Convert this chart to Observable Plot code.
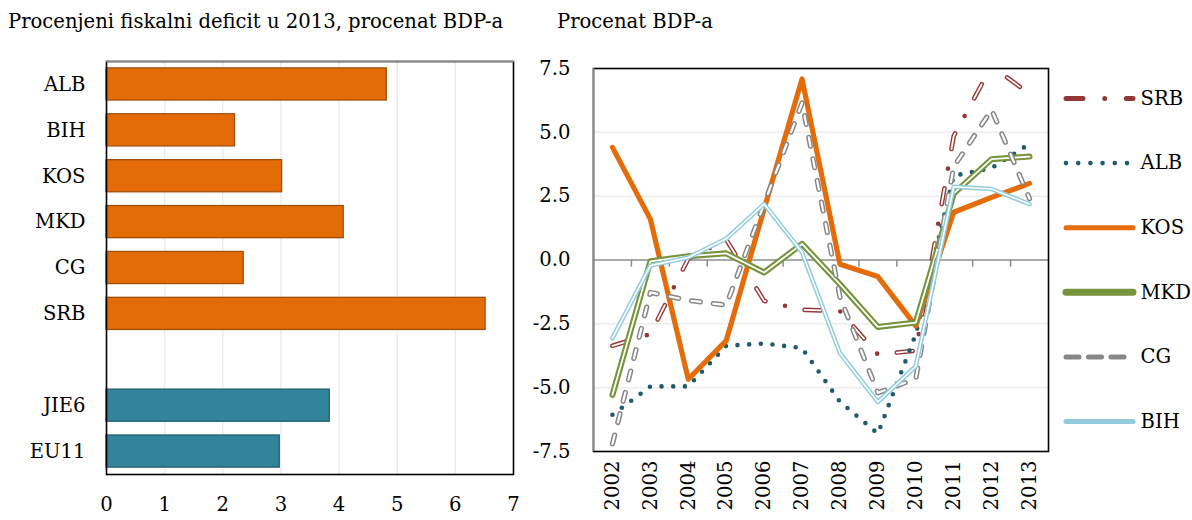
<!DOCTYPE html>
<html><head><meta charset="utf-8">
<script src="https://cdn.jsdelivr.net/npm/d3@7"></script>
<script src="https://cdn.jsdelivr.net/npm/@observablehq/plot@0.6"></script>
<style>
html,body{margin:0;padding:0;background:#fff;}
body{width:1192px;height:520px;overflow:hidden;position:relative;font-family:"DejaVu Serif",serif;color:#000;}
.t{position:absolute;font-size:19.6px;line-height:20px;white-space:nowrap;}
#t1{left:8px;top:12px;}
#t2{left:557px;top:12px;}
.p{position:absolute;top:0;}
#left{left:0;}
#right{left:540px;}
#legend{left:1055px;}
</style></head><body>
<div class="t" id="t1">Procenjeni fiskalni deficit u 2013, procenat BDP-a</div>
<div class="t" id="t2">Procenat BDP-a</div>
<div class="p" id="left"></div>
<div class="p" id="right"></div>
<div class="p" id="legend"></div>
<script>
// ---- Left chart data ----
const barCategories = ["ALB","BIH","KOS","MKD","CG","SRB","JIE6","EU11"];
const barValues     = [4.82, 2.21, 3.02, 4.08, 2.36, 6.52, 3.84, 2.98];
const barGroups     = ["country","country","country","country","country","country","region","region"];
const barTicks      = [0,1,2,3,4,5,6,7];

// ---- Right chart data ----
const years = [2002,2003,2004,2005,2006,2007,2008,2009,2010,2011,2012,2013];
const seriesNames = ["SRB","ALB","KOS","MKD","CG","BIH"];
const SRB = [-3.36,-2.9, 0.05, 0.8,-1.6,-1.95,-2.0,-3.7,-3.55, 4.85, 7.6, 6.5];
const ALB = [-6.06,-4.95,-4.95,-3.36,-3.27,-3.45,-5.55,-6.8,-2.9, 3.3, 3.6, 4.55];
const KOS = [ 4.41, 1.6,-4.67,-3.16, 2.0, 7.09,-0.17,-0.65,-2.58, 1.87, 2.45, 3.0];
const MKD = [-5.28,-0.05, 0.15, 0.26,-0.49, 0.63,-0.95,-2.62,-2.45, 2.6, 3.95, 4.05];
const CG  = [-7.2,-1.27,-1.58,-1.77, 2.2, 6.15,-1.45,-5.2,-4.65, 3.65, 5.88, 2.4];
const BIH = [-3.06,-0.22, 0.1, 0.83, 2.19, 0.3,-3.65,-5.56,-4.16, 2.87, 2.78, 2.19];
const yTicks = [-7.5,-5,-2.5,0,2.5,5,7.5];
const gridValues = [-5,-2.5,2.5,5];

const FONT = "DejaVu Serif";
const FS = 19.6;

// ---------- Left chart ----------
const groupFill = {country:"#E36C09", region:"#31849B"};
const groupStroke = {country:"#A34E08", region:"#235F70"};
const bars = barCategories.map((c,i)=>({cat:c, value:barValues[i], fill:groupFill[barGroups[i]], stroke:groupStroke[barGroups[i]]}));
const spacer = "\u2007";
const yDomain = [...barCategories.slice(0,6), spacer, ...barCategories.slice(6)];

const left = Plot.plot({
  width: 540, height: 520,
  marginTop: 61, marginBottom: 46, marginLeft: 106, marginRight: 27,
  style: {fontFamily: FONT, fontSize: FS+"px", color:"#000", background:"transparent", overflow:"visible"},
  x: {domain:[0,7], label:null},
  y: {domain: yDomain, paddingInner: 0.3, paddingOuter: 0.15, round:false, label:null},
  color: {type:"identity"},
  marks: [
    Plot.ruleX(barTicks.slice(1,-1), {stroke:"#ececec", strokeWidth:1.5}),
    Plot.barX(bars, {x:"value", y:"cat", fill:"fill", stroke:"stroke", strokeWidth:1.3}),
    Plot.frame({stroke:"#000", strokeWidth:1.6}),
    Plot.frame({anchor:"top", stroke:"#8a8a8a", strokeWidth:1.6}),
    Plot.axisX({ticks: barTicks, tickSize:0, tickPadding:23, fontSize:FS, label:null, tickFormat: d=>String(d)}),
    Plot.axisY({tickSize:0, tickPadding:21, fontSize:FS, label:null})
  ]
});
document.getElementById("left").appendChild(left);

// ---------- Right chart ----------
const seriesData = {SRB, ALB, KOS, MKD, CG, BIH};
const rows = seriesNames.flatMap(s => years.map((y,i)=>({series:s, year:y, value:seriesData[s][i]})));
const boundaries = years.slice(0,-1).map(y=>y+0.5);

const styles = {
  SRB: {color:"#953735", outer:4.6, inner:1.8, dash:"16,20,0,20", innerDash:"16,40"},
  ALB: {color:"#1F5B6B", outer:4.6, dash:"0,11.7"},
  KOS: {color:"#E46C0A", outer:5.2},
  MKD: {color:"#77933C", outer:6, inner:1.8},
  CG:  {color:"#878787", outer:5.2, inner:2.2, dash:"9,13", innerDash:"9,13"},
  BIH: {color:"#93CDDD", outer:4.6, inner:1.6}
};

const lineMarks = seriesNames.flatMap(s => {
  const st = styles[s];
  const data = rows.filter(r=>r.series===s);
  const m = [Plot.line(data, {x:"year", y:"value", stroke: st.color, strokeWidth: st.outer,
      strokeDasharray: st.dash, strokeLinecap: "round", strokeLinejoin:"round", clip:true})];
  if (st.inner) m.push(Plot.line(data, {x:"year", y:"value", stroke:"#fff", strokeWidth: st.inner,
      strokeDasharray: st.innerDash, strokeLinecap:"round", strokeLinejoin:"round", clip:true}));
  return m;
});

const right = Plot.plot({
  width: 520, height: 520,
  marginTop: 68, marginBottom: 69, marginLeft: 53, marginRight: 12,
  style: {fontFamily: FONT, fontSize: FS+"px", color:"#000", background:"transparent", overflow:"visible"},
  x: {domain:[years[0]-0.5, years[years.length-1]+0.5], label:null},
  y: {domain:[-7.5, 7.5], label:null},
  marks: [
    Plot.ruleY(gridValues, {stroke:"#ececec", strokeWidth:1.5}),
    Plot.ruleY([0], {stroke:"#8c8c8c", strokeWidth:1.5}),
    Plot.ruleX(boundaries, {y1:0, y2:-0.28, stroke:"#8c8c8c", strokeWidth:1.5}),
    ...lineMarks,
    Plot.frame({stroke:"#000", strokeWidth:1.6}),
    Plot.ruleX([years[0]-0.5], {stroke:"#8c8c8c", strokeWidth:1.6}),
    Plot.axisX({ticks: years, tickFormat: d=>String(d), tickRotate:-90, tickSize:0, tickPadding:9, fontSize:FS, label:null}),
    Plot.axisY({ticks: yTicks, tickFormat: d=>d.toFixed(1), tickSize:0, tickPadding:23, fontSize:FS, label:null})
  ]
});
document.getElementById("right").appendChild(right);

// ---------- Legend ----------
const legendStyles = {
  SRB: {w:5, dash:"17,21.7,0,21.7"},
  ALB: {w:4.6, dash:"0,12.2"},
  KOS: {w:5},
  MKD: {w:7},
  CG:  {w:5, dash:"13,9.5"},
  BIH: {w:5}
};
const legendMarks = seriesNames.map(s => Plot.link([{s}], {x1:()=>0, x2:()=>1, y1:"s", y2:"s",
  stroke: styles[s].color, strokeWidth: legendStyles[s].w, strokeDasharray: legendStyles[s].dash, strokeLinecap:"round"}));
const legend = Plot.plot({
  width: 137, height: 520,
  marginLeft: 10.5, marginRight: 59.5, marginTop: 0, marginBottom: 0,
  style: {fontFamily: FONT, fontSize: FS+"px", color:"#000", background:"transparent", overflow:"visible"},
  x: {domain:[0,1], axis:null},
  y: {type:"point", domain: seriesNames, range:[98, 421], padding:0, round:false, axis:null},
  marks: [
    ...legendMarks,
    Plot.text(seriesNames, {x:()=>1, y:d=>d, text:d=>d, textAnchor:"start", dx:7.5, fontSize:FS, fill:"#000"})
  ]
});
document.getElementById("legend").appendChild(legend);
</script>
</body></html>
